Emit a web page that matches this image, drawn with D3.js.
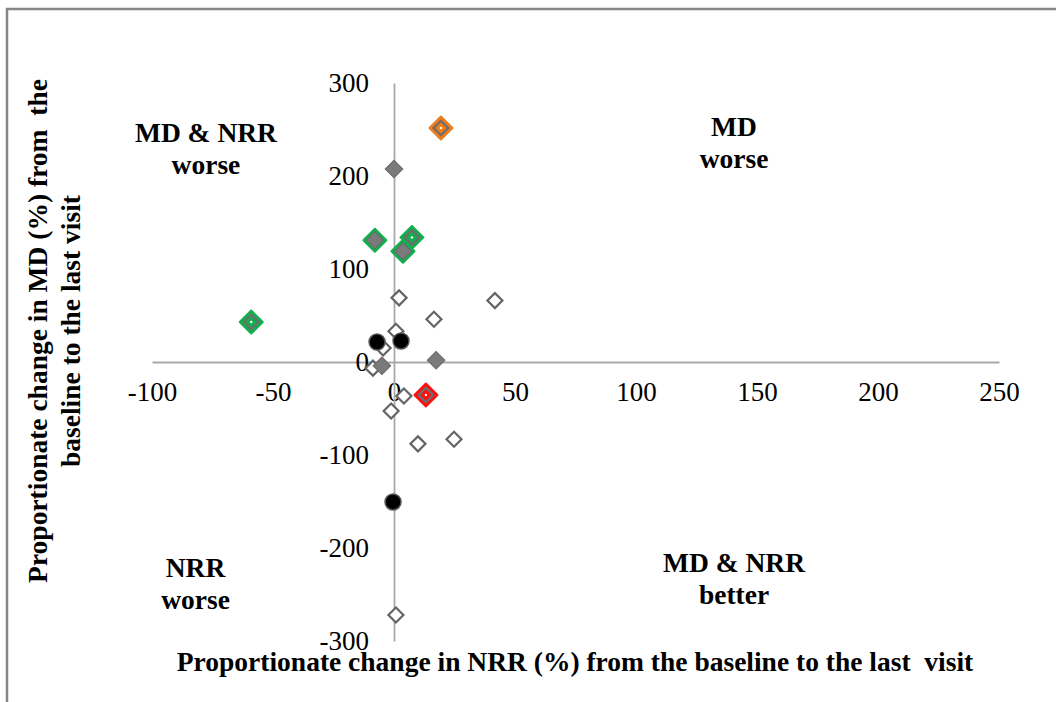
<!DOCTYPE html>
<html>
<head>
<meta charset="utf-8">
<script src="https://cdn.jsdelivr.net/npm/d3@7"></script>
<style>
  body { margin: 0; background: #fff; }
  svg { font-family: "Liberation Serif", "Times New Roman", serif; }
</style>
</head>
<body>
<svg id="chart" width="1056" height="702"></svg>
<script>
// data: proportionate change, NRR (%) on x, MD (%) on y
const hollowPts = [
  { nrr: 2.1, md: 69 },
  { nrr: 41.7, md: 66 },
  { nrr: 16.5, md: 46 },
  { nrr: 0.8, md: 33 },
  { nrr: -4.5, md: 15 },
  { nrr: -8.7, md: -6.6 },
  { nrr: 4.1, md: -36.6 },
  { nrr: -1.2, md: -52.7 },
  { nrr: 9.9, md: -88 },
  { nrr: 24.8, md: -83 },
  { nrr: 0.8, md: -272 }
]
const grayPts = [
  { nrr: 0, md: 207.5 },
  { nrr: -5, md: -4 },
  { nrr: 17.4, md: 2 }
]
const greenGrayPts = [
  { nrr: -7.9, md: 131 },
  { nrr: 3.7, md: 119 }
]
const greenHollowPts = [
  { nrr: 7.4, md: 134 },
  { nrr: -59, md: 43 }
]
const orangePts = [{ nrr: 19.4, md: 251.6 }]
const redPts = [{ nrr: 13.2, md: -35.5 }]
const blackPts = [
  { nrr: -7, md: 21.5 },
  { nrr: 2.9, md: 22.6 },
  { nrr: -0.4, md: -150.5 }
]

const xTicks = [-100, -50, 0, 50, 100, 150, 200, 250]
const yTicks = [-300, -200, -100, 0, 100, 200, 300]

const quadLabels = [
  { lines: ['MD & NRR', 'worse'], nrr: -77.7, md: 236.6 },
  { lines: ['MD', 'worse'], nrr: 140.5, md: 243 },
  { lines: ['NRR', 'worse'], nrr: -82, md: -231 },
  { lines: ['MD & NRR', 'better'], nrr: 140.5, md: -226 }
]

const svg = d3.select('#chart')

// outer frame (only top and left visible)
svg.append('rect')
  .attr('x', 7).attr('y', 9)
  .attr('width', 1100).attr('height', 750)
  .attr('fill', 'none')
  .attr('stroke', '#868686')
  .attr('stroke-width', 2.5)

const x = d3.scaleLinear().domain([-100, 250]).range([152, 999])
const y = d3.scaleLinear().domain([-300, 300]).range([641, 83])

// x axis
const gx = svg.append('g')
  .attr('transform', `translate(0,${y(0)})`)
  .call(d3.axisBottom(x).tickValues(xTicks).tickFormat((d) => String(d))
    .tickSize(0).tickSizeOuter(0).tickPadding(20))
gx.select('.domain').attr('stroke', '#a9a9a9').attr('stroke-width', 1.8)
gx.selectAll('text').attr('font-size', 27).attr('fill', '#000')
  .attr('font-family', '"Liberation Serif", "Times New Roman", serif')

// y axis
const gy = svg.append('g')
  .attr('transform', `translate(${x(0)},0)`)
  .call(d3.axisLeft(y).tickValues(yTicks).tickFormat((d) => String(d))
    .tickSize(0).tickSizeOuter(0).tickPadding(25))
gy.select('.domain').attr('stroke', '#a9a9a9').attr('stroke-width', 1.8)
gy.selectAll('text').attr('font-size', 27).attr('fill', '#000')
  .attr('font-family', '"Liberation Serif", "Times New Roman", serif')

// diamonds: rotated squares
const diamond = (h) => d3.symbol(d3.symbolSquare, 2 * h * h)()
const place = (d) => `translate(${x(d.nrr)},${y(d.md)}) rotate(45)`

svg.append('g').selectAll('path')
  .data(hollowPts)
  .enter()
  .append('path')
  .attr('d', diamond(7.5))
  .attr('transform', place)
  .attr('fill', '#fff')
  .attr('stroke', '#646464')
  .attr('stroke-width', 2.2)

// glow markers
function glow(data, colour, inner) {
  const g = svg.append('g')
  g.selectAll('.halo')
    .data(data)
    .enter()
    .append('path')
    .attr('class', 'halo')
    .attr('d', diamond(11.5))
    .attr('transform', place)
    .attr('fill', colour)
    .attr('stroke', colour)
    .attr('stroke-width', 2)
    .attr('stroke-linejoin', 'round')
  g.selectAll('.core')
    .data(data)
    .enter()
    .append('path')
    .attr('class', 'core')
    .attr('d', diamond(inner ? 8.5 : 7.3))
    .attr('transform', place)
    .attr('fill', inner ? '#7a7a7a' : colour)
    .attr('stroke', inner ? '#6a6a6a' : '#6e6e6e')
    .attr('stroke-width', inner ? 1 : 2.2)
  if (!inner) {
    g.selectAll('.dot')
      .data(data)
      .enter()
      .append('circle')
      .attr('class', 'dot')
      .attr('cx', (d) => x(d.nrr))
      .attr('cy', (d) => y(d.md))
      .attr('r', 1.2)
      .attr('fill', '#fff')
  }
}

svg.append('g').selectAll('path')
  .data(grayPts)
  .enter()
  .append('path')
  .attr('d', diamond(8.8))
  .attr('transform', place)
  .attr('fill', '#7a7a7a')
  .attr('stroke', '#6a6a6a')
  .attr('stroke-width', 1)

glow(greenGrayPts, '#12b04c', true)
glow(greenHollowPts, '#12b04c', false)
glow(orangePts, '#ee7d1e', false)
glow(redPts, '#ff1010', false)

svg.append('g').selectAll('circle')
  .data(blackPts)
  .enter()
  .append('circle')
  .attr('cx', (d) => x(d.nrr))
  .attr('cy', (d) => y(d.md))
  .attr('r', 8)
  .attr('fill', '#000')
  .attr('stroke', '#555')
  .attr('stroke-width', 1.5)

// quadrant labels
quadLabels.forEach((q) => {
  const t = svg.append('text')
    .attr('x', x(q.nrr))
    .attr('y', y(q.md))
    .attr('text-anchor', 'middle')
    .attr('font-size', 27.5)
    .attr('font-weight', 'bold')
  q.lines.forEach((l, i) => {
    t.append('tspan').attr('x', x(q.nrr)).attr('dy', i ? 32 : 0).text(l)
  })
})

// axis titles
svg.append('text')
  .attr('x', 575).attr('y', 671)
  .attr('text-anchor', 'middle')
  .attr('font-size', 27.5)
  .attr('font-weight', 'bold')
  .style('white-space', 'pre')
  .text('Proportionate change in NRR (%) from the baseline to the last  visit')

const yt = svg.append('text')
  .attr('transform', 'translate(47,331) rotate(-90)')
  .attr('text-anchor', 'middle')
  .attr('font-size', 27.5)
  .attr('font-weight', 'bold')
  .style('white-space', 'pre')
yt.append('tspan').attr('x', 0).attr('y', 0).text('Proportionate change in MD (%) from  the')
yt.append('tspan').attr('x', 0).attr('y', 33).text('baseline to the last visit')
</script>
</body>
</html>
